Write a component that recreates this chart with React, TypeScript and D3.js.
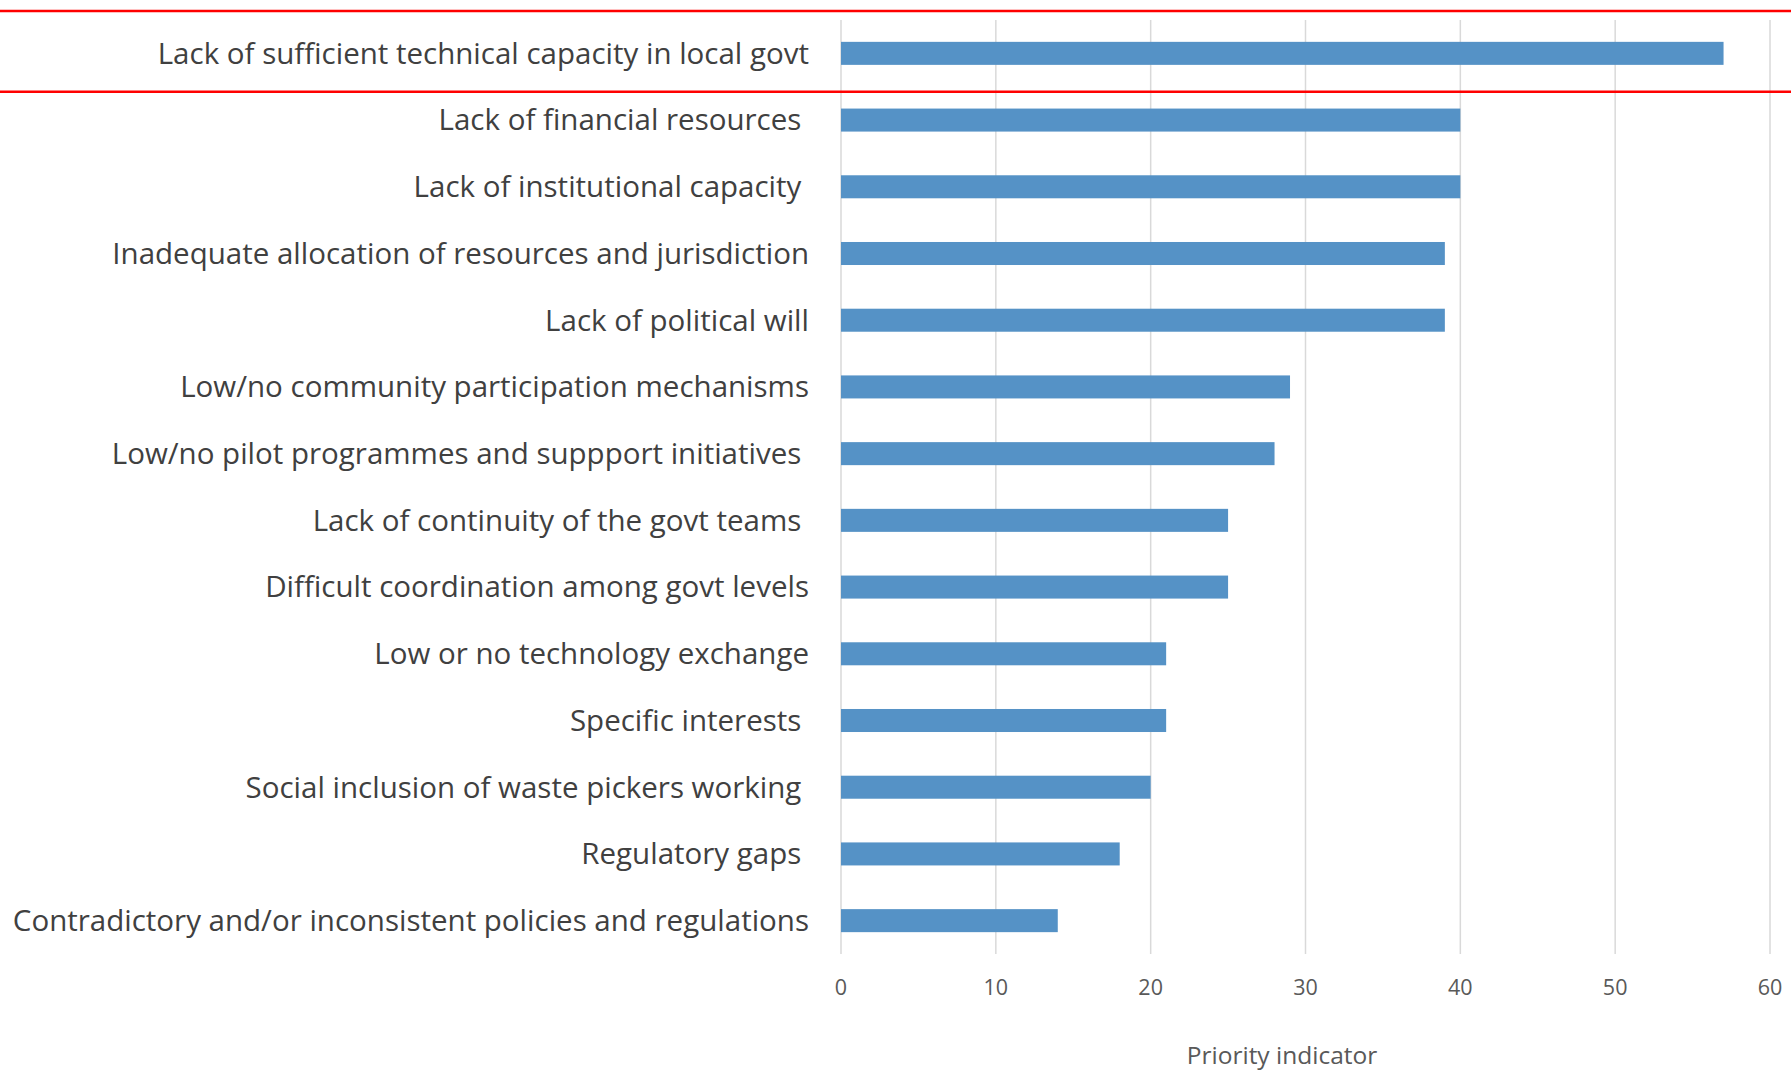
import React, { useEffect, useRef } from "react";
import * as d3 from "d3";

const categories = [
  "Lack of sufficient technical capacity in local govt",
  "Lack of financial resources ",
  "Lack of institutional capacity ",
  "Inadequate allocation of resources and jurisdiction",
  "Lack of political will",
  "Low/no community participation mechanisms",
  "Low/no pilot programmes and suppport initiatives ",
  "Lack of continuity of the govt teams ",
  "Difficult coordination among govt levels",
  "Low or no technology exchange",
  "Specific interests ",
  "Social inclusion of waste pickers working ",
  "Regulatory gaps ",
  "Contradictory and/or inconsistent policies and regulations",
];

const values = [57, 40, 40, 39, 39, 29, 28, 25, 25, 21, 21, 20, 18, 14];

const xTicks = [0, 10, 20, 30, 40, 50, 60];
const xTitle = "Priority indicator";
// the highlighted first row
const highlighted = categories[0];

const W = 1791;
const H = 1073;

const App: React.FC = () => {
  const svgRef = useRef<SVGSVGElement | null>(null);

  useEffect(() => {
    const svg = d3.select(svgRef.current);
    svg.selectAll("*").remove();

    const font = "'Open Sans', Lato, sans-serif";
    const plot = { left: 841, right: 1770, top: 20, bottom: 954 };

    const x = d3.scaleLinear().domain([0, 60]).range([plot.left, plot.right]);
    const y = d3
      .scaleBand()
      .domain(categories)
      .range([plot.top, plot.bottom])
      .paddingInner(0.655)
      .paddingOuter(0.3275);

    svg.append("rect").attr("width", W).attr("height", H).attr("fill", "#fff");

    // gridlines
    svg
      .append("g")
      .selectAll("line")
      .data(xTicks)
      .enter()
      .append("line")
      .attr("x1", (d) => x(d))
      .attr("x2", (d) => x(d))
      .attr("y1", plot.top)
      .attr("y2", plot.bottom)
      .attr("stroke", "#d9d9d9")
      .attr("stroke-width", 1.5);

    // bars
    svg
      .append("g")
      .selectAll("rect")
      .data(values)
      .enter()
      .append("rect")
      .attr("x", x(0))
      .attr("y", (_, i) => y(categories[i])!)
      .attr("width", (d) => x(d) - x(0))
      .attr("height", y.bandwidth())
      .attr("fill", "#5592c6");

    // category labels
    svg
      .append("g")
      .selectAll("text")
      .data(categories)
      .enter()
      .append("text")
      .attr("x", 809)
      .attr("y", (d) => y(d)! + y.bandwidth() / 2)
      .attr("dy", "0.35em")
      .attr("text-anchor", "end")
      .style("white-space", "pre")
      .attr("font-family", font)
      .attr("font-size", 29.5)
      .attr("fill", "#404040")
      .text((d) => d);

    // tick labels
    svg
      .append("g")
      .selectAll("text")
      .data(xTicks)
      .enter()
      .append("text")
      .attr("x", (d) => x(d))
      .attr("y", 987)
      .attr("dy", "0.35em")
      .attr("text-anchor", "middle")
      .attr("font-family", font)
      .attr("font-size", 21.5)
      .attr("fill", "#595959")
      .text((d) => d);

    svg
      .append("text")
      .attr("x", 1282)
      .attr("y", 1055)
      .attr("dy", "0.35em")
      .attr("text-anchor", "middle")
      .attr("font-family", font)
      .attr("font-size", 24.5)
      .attr("fill", "#595959")
      .text(xTitle);

    // red highlight lines around the first row
    const yTop = y(highlighted)! - y.step() / 2 + y.bandwidth() / 2 - 9;
    const yBot = y(highlighted)! + y.bandwidth() / 2 + y.step() / 2 + 5;
    [yTop, yBot].forEach((yy) => {
      svg
        .append("line")
        .attr("x1", 0)
        .attr("x2", W)
        .attr("y1", yy)
        .attr("y2", yy)
        .attr("stroke", "#ff0000")
        .attr("stroke-width", 2.5);
    });
  }, []);

  return (
    <div style={{ position: "absolute", left: 0, top: 0 }}>
      <svg ref={svgRef} width={W} height={H}></svg>
    </div>
  );
};

export default App;
